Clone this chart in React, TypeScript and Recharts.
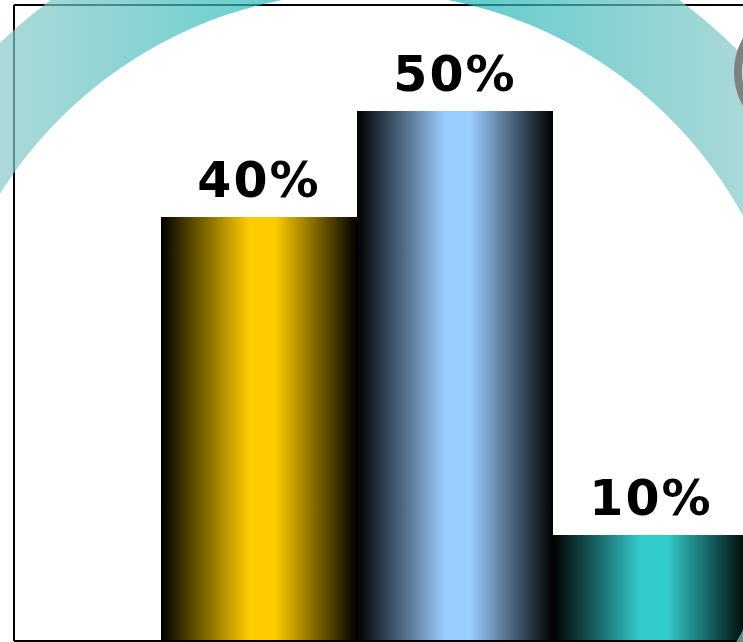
import React from 'react';
import { BarChart, Bar, XAxis, YAxis, Cell, LabelList, PieChart, Pie } from 'recharts';

const categories = ['A', 'B', 'C'];
const values = [40, 50, 10];
const barColors = ['#FFCC00', '#99CCFF', '#33CCCC'];
const yDomain = [0, 60];

const ringData = [{ name: 'ring', value: 100 }];
const badgeData = [{ name: 'badge', value: 100 }];

const data = categories.map((name, i) => ({ name, value: values[i] }));

export default function App() {
  return (
    <div style={{ position: 'absolute', left: 0, top: 0, width: 743, height: 642, overflow: 'hidden', background: '#fff' }}>
      <div style={{ position: 'absolute', left: 0, top: 0 }}>
        <BarChart
          width={760}
          height={700}
          data={data}
          margin={{ top: 4, right: 11, left: 13, bottom: 58 }}
          barCategoryGap={0}
          barGap={0}
        >
          <defs>
            {barColors.map((c, i) => (
              <linearGradient key={i} id={`barGrad${i}`} x1="0" y1="0" x2="1" y2="0">
                <stop offset="0" stopColor="#000" />
                <stop offset="0.45" stopColor={c} />
                <stop offset="0.58" stopColor={c} />
                <stop offset="1" stopColor="#000" />
              </linearGradient>
            ))}
          </defs>
          <XAxis
            dataKey="name"
            height={1}
            tick={false}
            tickLine={false}
            axisLine={{ stroke: '#000', strokeWidth: 2 }}
            padding={{ left: 147, right: 0 }}
          />
          <XAxis
            xAxisId="top"
            orientation="top"
            dataKey="name"
            height={1}
            tick={false}
            tickLine={false}
            axisLine={{ stroke: '#000', strokeWidth: 2 }}
            padding={{ left: 147, right: 0 }}
          />
          <YAxis
            width={1}
            domain={yDomain}
            tick={false}
            tickLine={false}
            axisLine={{ stroke: '#000', strokeWidth: 2 }}
          />
          <Bar dataKey="value" isAnimationActive={false}>
            {data.map((d, i) => (
              <Cell key={i} fill={`url(#barGrad${i})`} />
            ))}
            <LabelList
              dataKey="value"
              position="top"
              offset={20}
              formatter={(v: any) => `${v}%`}
              fill="#000"
              fontSize={49}
              fontWeight="bold"
              fontFamily="DejaVu Sans"
              letterSpacing={2}
            />
          </Bar>
        </BarChart>
      </div>
      <div style={{ position: 'absolute', left: 0, top: 0, pointerEvents: 'none' }}>
        <PieChart width={743} height={642} margin={{ top: 0, left: 0, right: 0, bottom: 0 }}>
          <defs>
            <linearGradient id="ringGrad" gradientUnits="userSpaceOnUse" x1="0" y1="0" x2="743" y2="0">
              <stop offset="0" stopColor="#8ac8c8" />
              <stop offset="0.3" stopColor="#3bbcbc" />
              <stop offset="0.45" stopColor="#14b3b3" />
              <stop offset="0.62" stopColor="#20b6b6" />
              <stop offset="1" stopColor="#86c7c7" />
            </linearGradient>
          </defs>
          <Pie
            data={ringData}
            dataKey="value"
            cx={365}
            cy={423}
            innerRadius={431}
            outerRadius={527}
            startAngle={90}
            endAngle={450}
            stroke="none"
            isAnimationActive={false}
          >
            {ringData.map((d, i) => (
              <Cell key={i} fill="url(#ringGrad)" fillOpacity={0.7} />
            ))}
          </Pie>
          <Pie
            data={badgeData}
            dataKey="value"
            cx={803}
            cy={72}
            innerRadius={0}
            outerRadius={62}
            startAngle={90}
            endAngle={450}
            stroke="none"
            isAnimationActive={false}
          >
            {badgeData.map((d, i) => (
              <Cell key={i} fill="#c4efef" />
            ))}
          </Pie>
          <Pie
            data={badgeData}
            dataKey="value"
            cx={803}
            cy={72}
            innerRadius={61}
            outerRadius={69}
            startAngle={90}
            endAngle={450}
            stroke="none"
            isAnimationActive={false}
          >
            {badgeData.map((d, i) => (
              <Cell key={i} fill="#808080" />
            ))}
          </Pie>
        </PieChart>
      </div>
    </div>
  );
}
